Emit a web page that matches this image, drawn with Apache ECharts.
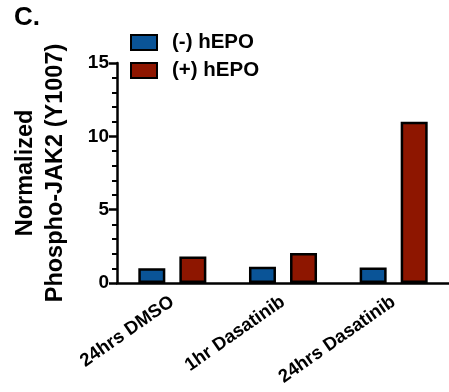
<!DOCTYPE html>
<html>
    <head>
        <meta charset="utf-8">
        <script src="https://cdn.jsdelivr.net/npm/echarts@6/dist/echarts.min.js"></script>
    </head>
    <body style="margin:0">
        <style>
            html, body, #main {
                width: 449px;
                height: 392px;
                margin: 0;
            }
        </style>
        <div id="main"></div>
        <script>
            var categories = ['24hrs DMSO', '1hr Dasatinib', '24hrs Dasatinib'];
            var noEpo = [1.0, 1.1, 1.05];
            var withEpo = [1.8, 2.05, 11.0];
            var yTicks = [0, 5, 10, 15];

            var font = 'Liberation Sans, Arial, sans-serif';
            var chart = echarts.init(document.getElementById('main'));

            chart.setOption({
                animation: false,
                textStyle: { fontFamily: font },
                title: {
                    text: 'C.',
                    left: 9,
                    top: 0,
                    textStyle: { fontSize: 26, fontWeight: 'bold', color: '#000', fontFamily: font }
                },
                legend: {
                    orient: 'vertical',
                    left: 130,
                    top: 32,
                    padding: 0,
                    itemWidth: 26,
                    itemHeight: 15,
                    itemGap: 7,
                    icon: 'rect',
                    textStyle: {
                        fontSize: 20.5,
                        lineHeight: 17,
                        fontWeight: 'bold',
                        color: '#000',
                        fontFamily: font,
                        padding: [0, 0, 0, 10]
                    },
                    data: ['(-) hEPO', '(+) hEPO']
                },
                grid: { left: 117, right: 0, top: 63, bottom: 109 },
                xAxis: {
                    type: 'category',
                    data: categories,
                    axisLine: { lineStyle: { color: '#000', width: 2.5 } },
                    axisTick: { alignWithLabel: true, length: 7, lineStyle: { color: '#000', width: 2.5 } },
                    axisLabel: {
                        rotate: 35,
                        margin: 17,
                        color: '#000',
                        fontSize: 18.5,
                        fontWeight: 'bold',
                        fontFamily: font
                    }
                },
                yAxis: {
                    type: 'value',
                    min: yTicks[0],
                    max: yTicks[yTicks.length - 1],
                    interval: 5,
                    name: 'Normalized\nPhospho-JAK2 (Y1007)',
                    nameLocation: 'middle',
                    nameRotate: 90,
                    nameGap: 46,
                    nameTextStyle: { fontSize: 23.5, fontWeight: 'bold', color: '#000', lineHeight: 30, fontFamily: font },
                    splitLine: { show: false },
                    axisLine: { show: true, lineStyle: { color: '#000', width: 2.5 } },
                    axisTick: { show: true, length: 8, lineStyle: { color: '#000', width: 2.5 } },
                    minorTick: { show: true, splitNumber: 5, length: 5, lineStyle: { color: '#000', width: 2 } },
                    axisLabel: { margin: 8, color: '#000', fontSize: 19, fontWeight: 'bold', fontFamily: font }
                },
                series: [
                    {
                        name: '(-) hEPO',
                        type: 'bar',
                        data: noEpo,
                        barWidth: 27,
                        barGap: '52%',
                        itemStyle: { color: '#0a5497', borderColor: '#000', borderWidth: 2.5 }
                    },
                    {
                        name: '(+) hEPO',
                        type: 'bar',
                        data: withEpo,
                        barWidth: 27,
                        itemStyle: { color: '#8e1600', borderColor: '#000', borderWidth: 2.5 }
                    }
                ]
            });
        </script>
    </body>
</html>
